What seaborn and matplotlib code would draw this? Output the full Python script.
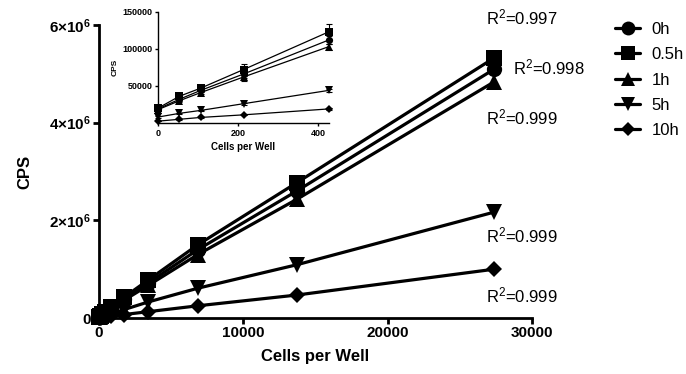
import numpy as np
import pandas as pd
import matplotlib
matplotlib.use("Agg")
import matplotlib.pyplot as plt
from matplotlib.lines import Line2D
import seaborn as sns

# ---------------- data ----------------
cells = [0, 53.5, 107, 214, 428, 856, 1712, 3425, 6850, 13700, 27400]
series_names = ["0h", "0.5h", "1h", "5h", "10h"]
cps_0h = [19000, 32000, 44000, 66000, 112000, 200000, 390000, 720000, 1400000, 2600000, 5100000]
cps_05h = [20000, 36000, 47000, 72000, 123000, 220000, 420000, 780000, 1500000, 2770000, 5330000]
cps_1h = [18000, 30000, 41000, 62000, 103000, 185000, 360000, 670000, 1300000, 2430000, 4840000]
cps_5h = [8000, 13000, 17000, 26000, 44000, 80000, 170000, 330000, 610000, 1090000, 2170000]
cps_10h = [2500, 5000, 7500, 11000, 19000, 35000, 70000, 130000, 250000, 470000, 1000000]
err_0h = [1500, 2000, 2500, 5000, 5000]
err_05h = [2000, 3000, 3000, 8000, 10000]
err_1h = [1500, 2000, 2500, 5000, 4000]
err_5h = [800, 1000, 1000, 1500, 2000]
err_10h = [300, 500, 500, 800, 1000]
r2_labels = ["0.997", "0.998", "0.999", "0.999", "0.999"]
main_xticks = [0, 10000, 20000, 30000]
main_yticks = [0, 2e6, 4e6, 6e6]
main_ytick_labels = ["0", r"$\mathbf{2{\times}10^{6}}$", r"$\mathbf{4{\times}10^{6}}$", r"$\mathbf{6{\times}10^{6}}$"]
inset_xticks = [0, 200, 400]
inset_yticks = [50000, 100000, 150000]
n_inset = 5

values = {"0h": cps_0h, "0.5h": cps_05h, "1h": cps_1h, "5h": cps_5h, "10h": cps_10h}
errors = {"0h": err_0h, "0.5h": err_05h, "1h": err_1h, "5h": err_5h, "10h": err_10h}
markers = {"0h": "o", "0.5h": "s", "1h": "^", "5h": "v", "10h": "D"}
main_ms = {"0h": 11, "0.5h": 11.5, "1h": 11, "5h": 11, "10h": 7.8}
legend_ms = {"0h": 10, "0.5h": 10, "1h": 10, "5h": 10, "10h": 7}
inset_ms = {"0h": 5.2, "0.5h": 5.5, "1h": 5.2, "5h": 5.2, "10h": 3.8}
draw_order = ["10h", "5h", "1h", "0h", "0.5h"]

df = pd.DataFrame({
    "cells": np.tile(cells, len(series_names)),
    "cps": np.concatenate([values[s] for s in series_names]),
    "time": np.repeat(series_names, len(cells)),
})

# ---------------- style ----------------
sns.set_style("ticks")
plt.rcParams["font.family"] = ["Liberation Sans", "DejaVu Sans"]
plt.rcParams["mathtext.fontset"] = "custom"
plt.rcParams["mathtext.rm"] = "Liberation Sans"
plt.rcParams["mathtext.bf"] = "Liberation Sans:bold"
plt.rcParams["mathtext.it"] = "Liberation Sans:italic"
for k in ("text.color", "axes.labelcolor", "xtick.color", "ytick.color", "axes.edgecolor"):
    plt.rcParams[k] = "black"

fig = plt.figure(figsize=(6.86, 3.74), dpi=100)
fig.patch.set_facecolor("white")

# ---------------- main axes ----------------
ax = fig.add_axes([99 / 686, 1 - 318 / 374, (532 - 99) / 686, (318 - 25) / 374])
for i, s in enumerate(draw_order):
    sub = df[df["time"] == s]
    sns.lineplot(data=sub, x="cells", y="cps", ax=ax, color="black", lw=2.3,
                 marker=markers[s], markersize=main_ms[s], markeredgewidth=0,
                 errorbar=None, legend=False, clip_on=False, zorder=3 + i)
ax.set_xlim(0, 30000)
ax.set_ylim(0, 6e6)
ax.set_xticks(main_xticks)
ax.set_xticklabels([str(t) for t in main_xticks], fontweight="bold", fontsize=11)
ax.set_yticks(main_yticks)
ax.set_yticklabels(main_ytick_labels, fontweight="bold", fontsize=11)
ax.set_xlabel("Cells per Well", fontweight="bold", fontsize=12, labelpad=6)
ax.set_ylabel("CPS", fontweight="bold", fontsize=12, labelpad=12)
sns.despine(ax=ax)
for sp in ("left", "bottom"):
    ax.spines[sp].set_linewidth(2.0)
ax.tick_params(axis="both", width=2.0, length=4, direction="out", pad=2, colors="black")
ax.set_facecolor("none")

# ---------------- R^2 labels ----------------
r2_pos = [(486, 17), (513, 67), (486, 117), (486, 235), (486, 295)]
for lab, (px, py) in zip(r2_labels, r2_pos):
    fig.text(px / 686, 1 - py / 374, r"R$^{2}$=" + lab, fontsize=12, va="center", ha="left")

# ---------------- legend ----------------
handles = [Line2D([], [], color="black", lw=2.3, marker=markers[s],
                  markersize=legend_ms[s], markeredgewidth=0) for s in series_names]
fig.legend(handles, series_names, loc="upper left", bbox_to_anchor=(615 / 686, 1 - 22 / 374),
           frameon=False, fontsize=12, handlelength=1.5, handletextpad=0.7,
           labelspacing=0.62, borderpad=0, borderaxespad=0)

# ---------------- inset ----------------
axin = fig.add_axes([158 / 686, 1 - 123 / 374, 171 / 686, (123 - 11.7) / 374])
axin.set_facecolor("white")
for i, s in enumerate(draw_order):
    sub = df[df["time"] == s].iloc[:n_inset]
    axin.errorbar(sub["cells"], sub["cps"], yerr=errors[s], fmt="none", ecolor="black",
                  elinewidth=0.8, capsize=2.5, capthick=0.8, clip_on=False, zorder=2 + i)
    sns.lineplot(data=sub, x="cells", y="cps", ax=axin, color="black", lw=0.9,
                 marker=markers[s], markersize=inset_ms[s], markeredgewidth=0,
                 errorbar=None, legend=False, clip_on=False, zorder=3 + i)
axin.set_xlim(0, 428)
axin.set_ylim(0, 150000)
axin.set_xticks(inset_xticks)
axin.set_xticklabels([str(t) for t in inset_xticks], fontweight="bold", fontsize=6.5)
axin.set_yticks(inset_yticks)
axin.set_yticklabels([str(t) for t in inset_yticks], fontweight="bold", fontsize=6.5)
axin.set_xlabel("Cells per Well", fontweight="bold", fontsize=7, labelpad=3)
axin.set_ylabel("CPS", fontweight="bold", fontsize=6, labelpad=3)
sns.despine(ax=axin)
for sp in ("left", "bottom"):
    axin.spines[sp].set_linewidth(1.0)
axin.tick_params(axis="both", width=1.0, length=2.5, direction="out", pad=1.5, colors="black")

fig.savefig("out.png", dpi=100, facecolor="white")
